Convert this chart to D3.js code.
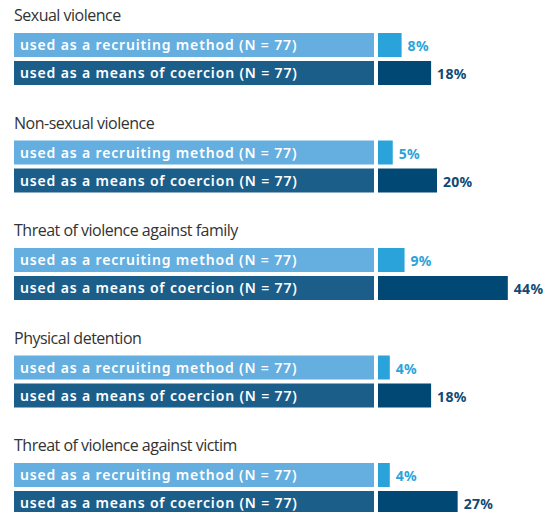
<!DOCTYPE html>
<html><head><meta charset="utf-8">
<script src="https://cdn.jsdelivr.net/npm/d3@7"></script>
<style>body{margin:0;background:#fff;}svg{display:block;}</style>
</head><body>
<script>
const categories = ["Sexual violence","Non-sexual violence","Threat of violence against family","Physical detention","Threat of violence against victim"];
const seriesLabels = ["used as a recruiting method (N = 77)","used as a means of coercion (N = 77)"];
const recruiting = [8,5,9,4,4];
const coercion = [18,20,44,18,27];

const W=554,H=512;
const svg=d3.select("body").append("svg").attr("width",W).attr("height",H);
const x=d3.scaleLinear().domain([0,100]).range([0,295]);
const y=d3.scaleBand().domain(categories).range([0,537.5]).paddingInner(0).paddingOuter(0);
const labelX=14,labelW=360,barX=378,barH=24,gap=4,topOff=33;
const colLabel=["#64aee0","#1b5e8a"],colBar=["#2aa3da","#024874"],colText=["#2aa3da","#0f4a73"];
const series=[recruiting,coercion];
const g=svg.selectAll("g.cat").data(categories).join("g").attr("class","cat")
  .attr("transform",c=>`translate(0,${y(c)})`);
g.append("text").attr("x",labelX).attr("y",topOff-12).text(c=>c)
  .attr("font-family","'Open Sans',sans-serif").attr("font-size",16).attr("fill","#333").attr("letter-spacing","-0.5");
series.forEach((s,si)=>{
  const yy=topOff+si*(barH+gap);
  g.append("rect").attr("x",labelX).attr("y",yy).attr("width",labelW).attr("height",barH).attr("fill",colLabel[si]);
  g.append("text").attr("x",labelX+6).attr("y",yy+barH/2).attr("dy","0.36em").text(seriesLabels[si])
    .attr("font-family","'Noto Sans',sans-serif").attr("font-weight",600).attr("font-size",14).attr("letter-spacing","0.85").attr("fill","#fff");
  g.append("rect").attr("x",barX).attr("y",yy).attr("width",(c,i)=>x(s[i])).attr("height",barH).attr("fill",colBar[si]);
  g.append("text").attr("x",(c,i)=>barX+x(s[i])+6).attr("y",yy+barH/2+1).attr("dy","0.36em").text((c,i)=>s[i]+"%")
    .attr("font-family","'Noto Sans',sans-serif").attr("font-weight",700).attr("font-size",14).attr("letter-spacing","0.3").attr("fill",colText[si]);
});
</script>
</body></html>
